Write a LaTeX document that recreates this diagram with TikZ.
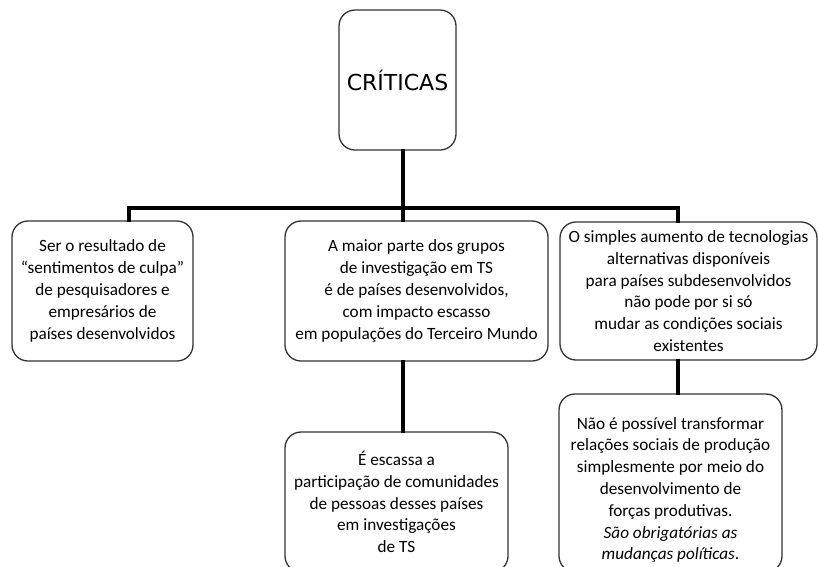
\documentclass[tikz,border=0pt]{standalone}
\usepackage{fontspec}
\setmainfont{Carlito}
\newfontfamily\titlefont{DejaVu Sans}
\begin{document}
\begin{tikzpicture}[x=1pt,y=1pt,
  box/.style={draw=black!80, line width=1.3pt, rounded corners=16pt, inner sep=0pt, fill=white},
  txt/.style={align=center, font=\fontsize{17.2}{21.8}\selectfont, inner sep=0pt},
  conn/.style={line width=3.4pt, black, line cap=rect}]
\useasboundingbox (0,0) rectangle (819,-566);
\clip (0,0) rectangle (819,-566);
% boxes
\node[box, minimum width=117pt, minimum height=140pt] (crit) at (397.5,-80) {};
\node[box, minimum width=181pt, minimum height=140pt] (l1) at (102.5,-291) {};
\node[box, minimum width=263pt, minimum height=140pt] (m1) at (416.5,-291) {};
\node[box, minimum width=257pt, minimum height=138pt] (r1) at (688.5,-291) {};
\node[box, minimum width=223pt, minimum height=140pt] (m2) at (396.5,-502) {};
\node[box, minimum width=223pt, minimum height=178pt] (r2) at (670.5,-483) {};
% texts
\node[inner sep=0pt, font=\titlefont\fontsize{22}{26}\selectfont] (critt) at (397.5,-80) {CRÍTICAS};
\node[txt] (l1t) at (102.5,-291) {Ser o resultado  de\\“sentimentos  de culpa”\\de pesquisadores  e\\empresários  de\\países desenvolvidos};
\node[txt] (m1t) at (416.5,-291) {A maior parte  dos grupos\\de investigação em TS\\é de países  desenvolvidos,\\com impacto escasso\\em populações  do Terceiro  Mundo};
\node[txt] (r1t) at (688.5,-291) {O simples aumento  de tecnologias\\alternativas disponíveis\\para países subdesenvolvidos\\não pode por si só\\mudar as condições sociais\\existentes};
\node[txt] (m2t) at (396.5,-502) {É escassa a\\participação de comunidades\\de pessoas  desses países\\em investigações\\de TS};
\node[txt] (r2t) at (670.5,-490) {Não é possível transformar\\relações sociais de produção\\simplesmente por meio do\\desenvolvimento de\\forças produtivas.\\\textit{São obrigatórias as}\\\textit{mudanças políticas}.};
% connector coordinates
\coordinate (xs) at (403,0);
\coordinate (xl) at (129,0);
\coordinate (xr) at (678,0);
\coordinate (bar) at (403,-208);
% connectors
\draw[conn] (crit.south -| xs) -- (bar);
\draw[conn] (bar) -- (m1.north -| xs);
\draw[conn] (l1.north -| xl) |- (bar) -| (r1.north -| xr);
\draw[conn] (m1.south -| xs) -- (m2.north -| xs);
\draw[conn] (r1.south -| xr) -- (r2.north -| xr);
\end{tikzpicture}
\end{document}
